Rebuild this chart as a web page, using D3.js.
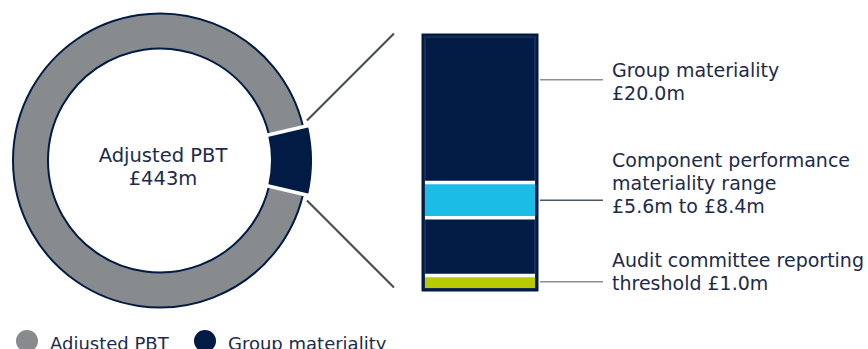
<!DOCTYPE html>
<html>
<head>
<meta charset="utf-8">
<script src="https://cdn.jsdelivr.net/npm/d3@7"></script>
<style>
  html, body { margin: 0; padding: 0; background: #fff; }
  svg { display: block; }
  text { font-family: "DejaVu Sans", sans-serif; fill: #1c2b4b; }
</style>
</head>
<body>
<div id="chart"></div>
<script>
// Values (£m)
const adjustedPBT = 443;
const groupMateriality = 20.0;
const componentRange = [5.6, 8.4];
const auditThreshold = 1.0;

const legendNames = ["Adjusted PBT", "Group materiality"];
const centreLabel = ["Adjusted PBT", "£443m"];
const barLabels = [
  ["Group materiality", "£20.0m"],
  ["Component performance", "materiality range", "£5.6m to £8.4m"],
  ["Audit committee reporting", "threshold £1.0m"]
];
// value on the bar where each leader line points
const leaderValues = [16.6, 7.0, 0.5];

// colours
const navy = "#011b44", grey = "#878b8e", cyan = "#1bbde6", lime = "#b7cb00";

const W = 868, H = 349;
const svg = d3.select("#chart").append("svg")
  .attr("width", W).attr("height", H);

// ---------- donut ----------
const cx = 160, cy = 160.5, rOuter = 147, rInner = 112;
// the figure blows the slice up so it can be seen; keep the real share and scale it
const emphasis = 1.63;
const angle = d3.scaleLinear().domain([0, adjustedPBT]).range([0, 2 * Math.PI]);
const half = angle(groupMateriality) * emphasis / 2;

const g = svg.append("g").attr("transform", "translate(" + cx + "," + cy + ")");

const arc = d3.arc();
// grey remainder
g.append("path")
  .attr("d", arc({innerRadius: rInner, outerRadius: rOuter,
                  startAngle: Math.PI / 2 + half, endAngle: Math.PI / 2 - half + 2 * Math.PI}))
  .attr("fill", grey)
  .attr("stroke", navy).attr("stroke-width", 2);
// group materiality slice (pulled a bit proud of the ring)
g.append("path")
  .attr("d", arc({innerRadius: rInner - 1, outerRadius: rOuter + 5,
                  startAngle: Math.PI / 2 - half, endAngle: Math.PI / 2 + half}))
  .attr("fill", navy);
// white separators
[Math.PI / 2 - half, Math.PI / 2 + half].forEach(function(a) {
  g.append("line")
    .attr("x1", Math.sin(a) * (rInner - 3)).attr("y1", -Math.cos(a) * (rInner - 3))
    .attr("x2", Math.sin(a) * (rOuter + 8)).attr("y2", -Math.cos(a) * (rOuter + 8))
    .attr("stroke", "#fff").attr("stroke-width", 3.5);
});

g.selectAll("text.centre")
  .data(centreLabel)
  .enter().append("text")
  .attr("class", "centre")
  .attr("x", 3)
  .attr("y", function(d, i) { return 1.5 + i * 23; })
  .attr("text-anchor", "middle")
  .attr("font-size", 19.5)
  .text(function(d) { return d; });

// ---------- materiality bar ----------
const barX0 = 425, barX1 = 535;
const y = d3.scaleLinear().domain([0, groupMateriality]).range([288, 37]);

svg.append("rect")
  .attr("x", barX0 - 3.5).attr("y", y(groupMateriality) - 3.5)
  .attr("width", barX1 - barX0 + 7).attr("height", y(0) - y(groupMateriality) + 7)
  .attr("fill", navy);
svg.append("rect")
  .attr("x", barX0).attr("y", y(groupMateriality))
  .attr("width", barX1 - barX0).attr("height", y(0) - y(groupMateriality))
  .attr("fill", navy).attr("stroke", "#2c4066").attr("stroke-width", 1);

// component performance range
svg.append("rect")
  .attr("x", barX0).attr("y", y(componentRange[1]))
  .attr("width", barX1 - barX0).attr("height", y(componentRange[0]) - y(componentRange[1]))
  .attr("fill", cyan);
// audit threshold
svg.append("rect")
  .attr("x", barX0).attr("y", y(auditThreshold))
  .attr("width", barX1 - barX0).attr("height", y(0) - y(auditThreshold))
  .attr("fill", lime);
// white edges on the bands
[componentRange[1], componentRange[0], auditThreshold].forEach(function(v) {
  svg.append("line")
    .attr("x1", barX0).attr("x2", barX1)
    .attr("y1", y(v)).attr("y2", y(v))
    .attr("stroke", "#fff").attr("stroke-width", 3.5);
});

// leader lines + labels
const leaderX0 = 540, leaderX1 = 603, labelX = 612;
const leaderColours = ["#8a8f93", "#4a5566", "#8a8f93"];
const labelFirstBaseline = [77, 167, 267];

leaderValues.forEach(function(v, i) {
  svg.append("line")
    .attr("x1", leaderX0).attr("x2", leaderX1)
    .attr("y1", y(v)).attr("y2", y(v))
    .attr("stroke", leaderColours[i]).attr("stroke-width", 1.5);

  svg.append("g").selectAll("text")
    .data(barLabels[i])
    .enter().append("text")
    .attr("x", labelX)
    .attr("y", function(d, j) { return labelFirstBaseline[i] + j * 23; })
    .attr("font-size", 19)
    .text(function(d) { return d; });
});

// connectors from the slice to the bar
const cornerX = cx + Math.sin(Math.PI / 2 - half) * (rOuter + 5) - 1;
const cornerDy = 40;
[-1, 1].forEach(function(s) {
  svg.append("line")
    .attr("x1", cornerX).attr("y1", cy + s * cornerDy)
    .attr("x2", cornerX + 87).attr("y2", cy + s * (cornerDy + 87))
    .attr("stroke", "#4b5057").attr("stroke-width", 2.2);
});

// ---------- legend ----------
const legendX = [27, 205];
const legend = svg.selectAll("g.legend")
  .data(legendNames)
  .enter().append("g")
  .attr("class", "legend")
  .attr("transform", function(d, i) { return "translate(" + legendX[i] + ",341)"; });
legend.append("circle")
  .attr("r", 11)
  .attr("fill", function(d, i) { return i == 0 ? grey : navy; });
legend.append("text")
  .attr("x", 23).attr("y", 9)
  .attr("font-size", 18)
  .text(function(d) { return d; });
</script>
</body>
</html>
